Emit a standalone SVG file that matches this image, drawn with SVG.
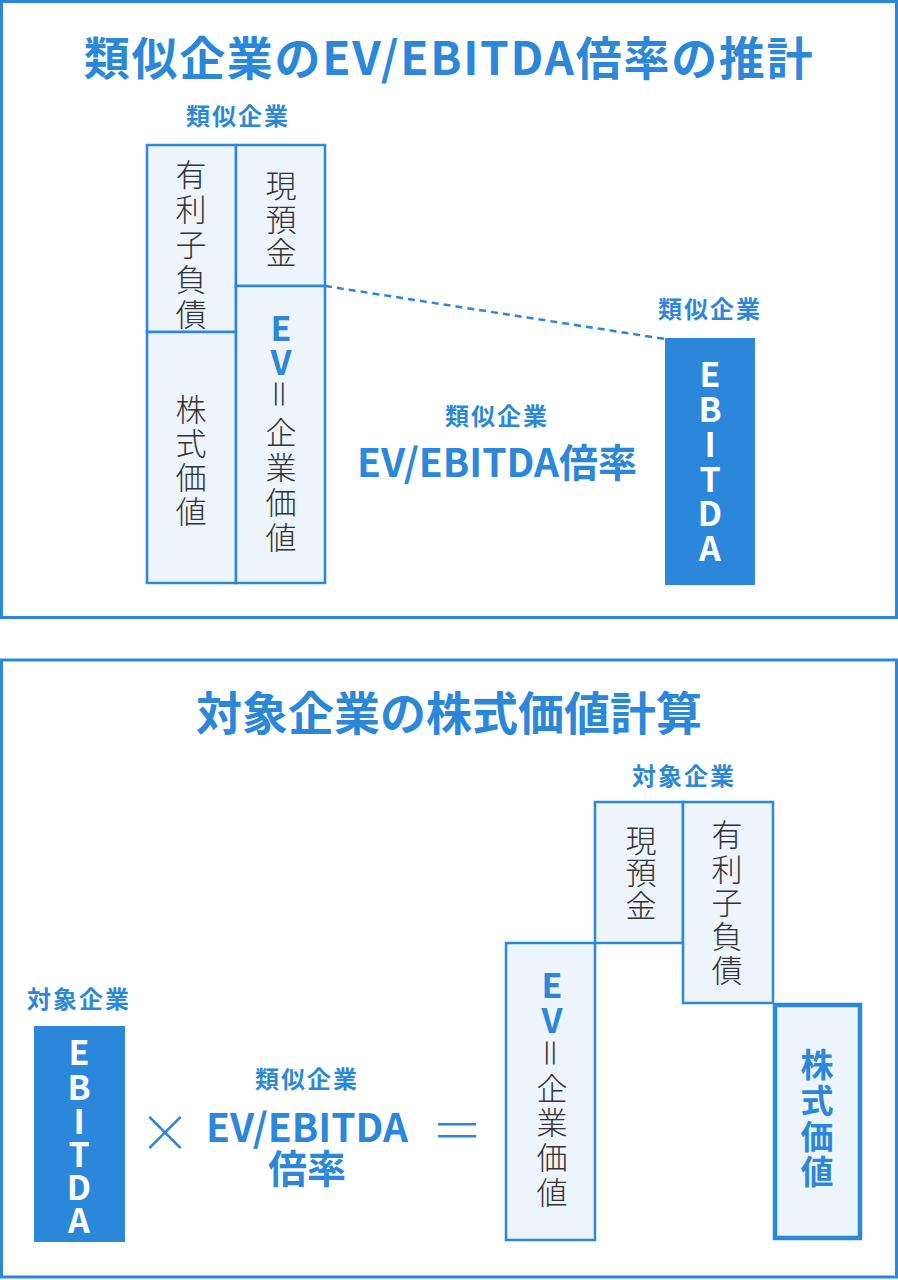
<svg xmlns="http://www.w3.org/2000/svg" width="898" height="1280" viewBox="0 0 898 1280">
<style>
text{font-family:"Noto Sans CJK JP","Noto Sans",sans-serif}
.frame{fill:#fff;stroke:#2b87d9;stroke-width:3}
.title{font-size:46px;font-weight:700;fill:#2b87d9;text-anchor:middle}
.lbl{font-size:24px;font-weight:700;fill:#2b87d9;text-anchor:middle;letter-spacing:2px}
.mid{font-size:39px;font-weight:700;fill:#2b87d9;text-anchor:middle}
.box{fill:#edf4fb;stroke:#2b87d9;stroke-width:2.5}
.thick{fill:#edf4fb;stroke:#2b87d9;stroke-width:4.5}
.dark{fill:#2b87d9}
.v{font-size:31px;font-weight:300;fill:#333;text-anchor:middle;dominant-baseline:central}
.vb{font-size:34px;font-weight:700;fill:#2b87d9;text-anchor:middle;dominant-baseline:central}
.vk{font-size:33px;font-weight:700;fill:#2b87d9;text-anchor:middle;dominant-baseline:central}
.vw{font-size:34px;font-weight:700;fill:#fff;text-anchor:middle;dominant-baseline:central}
.op{font-size:52px;font-weight:300;fill:#2b87d9;text-anchor:middle;dominant-baseline:central}
</style>
<rect class="frame" x="1.5" y="1.5" width="895" height="616"/>
<rect class="frame" x="1.5" y="660" width="895" height="617"/>
<text class="title" x="449" y="75" letter-spacing="1.7">類似企業のEV/EBITDA倍率の推計</text>
<text class="title" x="449" y="730">対象企業の株式価値計算</text>

<g id="connectors">
<line x1="325" y1="286" x2="665" y2="339" stroke="#2b87d9" stroke-width="2.5" stroke-dasharray="7,5"/>
</g>

<g id="comp-stack">
<text class="lbl" x="238" y="125">類似企業</text>
<rect class="box" x="147" y="145" width="89" height="187"/>
<rect class="box" x="147" y="332" width="89" height="251"/>
<rect class="box" x="236" y="145" width="89" height="141"/>
<rect class="box" x="236" y="286" width="89" height="297"/>
<text class="v" x="191" y="172">有</text>
<text class="v" x="191" y="207">利</text>
<text class="v" x="191" y="242">子</text>
<text class="v" x="191" y="277">負</text>
<text class="v" x="191" y="312">債</text>
<text class="v" x="191" y="407">株</text>
<text class="v" x="191" y="441">式</text>
<text class="v" x="191" y="475">価</text>
<text class="v" x="191" y="509">値</text>
<text class="v" x="281" y="183">現</text>
<text class="v" x="281" y="217">預</text>
<text class="v" x="281" y="250">金</text>
<text class="vb" x="281" y="326">E</text>
<text class="vb" x="281" y="360">V</text>
<text class="v" x="281" y="394" transform="rotate(90 281 394)">＝</text>
<text class="v" x="281" y="430">企</text>
<text class="v" x="281" y="465">業</text>
<text class="v" x="281" y="500">価</text>
<text class="v" x="281" y="535">値</text>
</g>

<g id="comp-multiple">
<text class="lbl" x="497" y="425">類似企業</text>
<text class="mid" x="497" y="477">EV/EBITDA倍率</text>
</g>

<g id="comp-ebitda">
<text class="lbl" x="710" y="318">類似企業</text>
<rect class="dark" x="665" y="338" width="90" height="247"/>
<text class="vw" x="710" y="372">E</text>
<text class="vw" x="710" y="407">B</text>
<text class="vw" x="710" y="442">I</text>
<text class="vw" x="710" y="477">T</text>
<text class="vw" x="710" y="511">D</text>
<text class="vw" x="710" y="546">A</text>
</g>

<g id="target-ebitda">
<text class="lbl" x="79" y="1008">対象企業</text>
<rect class="dark" x="34" y="1026" width="91" height="216"/>
<text class="vw" x="79" y="1050">E</text>
<text class="vw" x="79" y="1085">B</text>
<text class="vw" x="79" y="1119">I</text>
<text class="vw" x="79" y="1152">T</text>
<text class="vw" x="79" y="1185">D</text>
<text class="vw" x="79" y="1218">A</text>
</g>

<g id="times"><text class="op" x="165" y="1129">×</text></g>

<g id="target-multiple">
<text class="lbl" x="307" y="1088">類似企業</text>
<text class="mid" x="307" y="1142">EV/EBITDA</text>
<text class="mid" x="307" y="1183">倍率</text>
</g>

<g id="equals"><text class="op" x="457" y="1127">＝</text></g>

<g id="target-stack">
<text class="lbl" x="684" y="785">対象企業</text>
<rect class="box" x="595" y="802" width="88" height="141"/>
<rect class="box" x="683" y="802" width="90" height="201"/>
<rect class="box" x="506" y="943" width="89" height="297"/>
<rect class="thick" x="775" y="1005" width="85" height="233"/>
<text class="v" x="641" y="838">現</text>
<text class="v" x="641" y="870">預</text>
<text class="v" x="641" y="903">金</text>
<text class="v" x="727" y="832">有</text>
<text class="v" x="727" y="867">利</text>
<text class="v" x="727" y="900">子</text>
<text class="v" x="727" y="934">負</text>
<text class="v" x="727" y="968">債</text>
<text class="vb" x="552" y="983">E</text>
<text class="vb" x="552" y="1018">V</text>
<text class="v" x="552" y="1053" transform="rotate(90 552 1053)">＝</text>
<text class="v" x="552" y="1086">企</text>
<text class="v" x="552" y="1120">業</text>
<text class="v" x="552" y="1155">価</text>
<text class="v" x="552" y="1190">値</text>
<text class="vk" x="817" y="1063">株</text>
<text class="vk" x="817" y="1099">式</text>
<text class="vk" x="817" y="1135">価</text>
<text class="vk" x="817" y="1170">値</text>
</g>
</svg>
